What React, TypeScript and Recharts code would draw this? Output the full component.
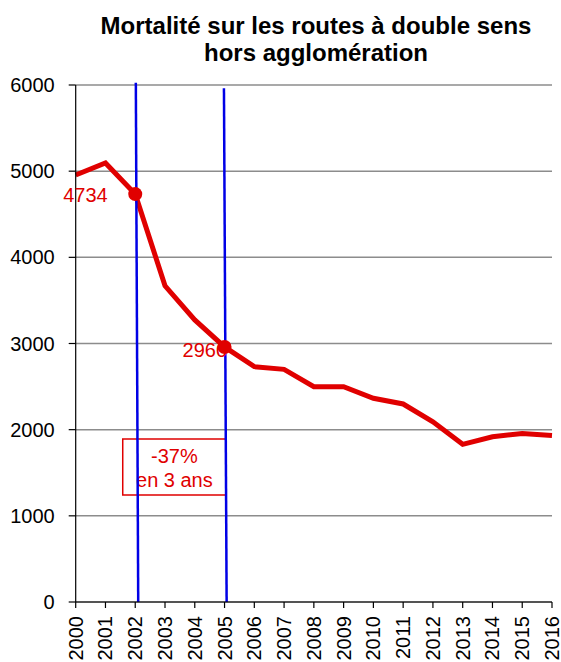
import React from 'react';
import {
  LineChart, Line, XAxis, YAxis, CartesianGrid,
  ReferenceLine, ReferenceArea,
} from 'recharts';

const YEARS = [
  2000, 2001, 2002, 2003, 2004, 2005, 2006, 2007, 2008,
  2009, 2010, 2011, 2012, 2013, 2014, 2015, 2016,
];
const DEATHS = [
  4955, 5095, 4734, 3670, 3273, 2960, 2731, 2700, 2499,
  2499, 2365, 2298, 2092, 1830, 1918, 1955, 1932,
];
const Y_TICKS = [0, 1000, 2000, 3000, 4000, 5000, 6000];
const MARKED_YEARS = [2002, 2005];

// lignes bleues légèrement penchées, en unités de données
const BLUE_LINES = [
  [{ x: 2002.02, y: 6025 }, { x: 2002.1, y: 0 }],
  [{ x: 2004.98, y: 5962 }, { x: 2005.07, y: 0 }],
];
const BOX = { x1: 2001.58, x2: 2005.05, y1: 1242, y2: 1892 };
const BOX_LINES = ['-37%', 'en 3 ans'];

const RED = '#e00000';
const BLUE = '#0000e6';
const FONT = '"Liberation Sans", Arial, sans-serif';

const data = YEARS.map((year, i) => ({ year, value: DEATHS[i] }));

const XTick = ({ x, payload }: any) => (
  <text
    transform={`translate(${x + 7}, 616) rotate(-90)`}
    textAnchor="end"
    fontSize={20}
    fontFamily={FONT}
    fill="#000"
  >
    {payload.value}
  </text>
);

const Dot = (props: any) => {
  const { cx, cy, payload } = props;
  if (!MARKED_YEARS.includes(payload.year)) return <g key={payload.year} />;
  return <circle key={payload.year} cx={cx} cy={cy} r={7} fill={RED} />;
};

const PointLabel = (props: any) => {
  const { x, y, index, value } = props;
  const year = YEARS[index];
  if (!MARKED_YEARS.includes(year)) return null;
  const dx = year === 2002 ? -27.5 : 2.5;
  const dy = year === 2002 ? 8 : 10;
  return (
    <text x={x + dx} y={y + dy} textAnchor="end" fontSize={20} fontFamily={FONT} fill={RED}>
      {value}
    </text>
  );
};

const BoxLabel = (props: any) => {
  const { x, y, width } = props.viewBox;
  const cx = x + width / 2;
  return (
    <g>
      {BOX_LINES.map((t, i) => (
        <text key={t} x={cx} y={y + 23.7 + i * 24} textAnchor="middle" fontSize={20} fontFamily={FONT} fill={RED}>
          {t}
        </text>
      ))}
    </g>
  );
};

export default function App() {
  return (
    <div style={{ position: 'absolute', left: 0, top: 0, width: 561, height: 662, background: '#fff' }}>
      <div
        style={{
          position: 'absolute', left: 66, top: 12, width: 500,
          textAlign: 'center', fontFamily: FONT, fontWeight: 'bold',
          fontSize: 24, lineHeight: '27px', color: '#000',
        }}
      >
        Mortalité sur les routes à double sens<br />hors agglomération
      </div>
      <LineChart
        width={561}
        height={662}
        data={data}
        margin={{ top: 85, right: 9, bottom: 0, left: 5.7 }}
      >
        <CartesianGrid vertical={false} stroke="#8c8c8c" strokeWidth={1.5} />
        <XAxis
          dataKey="year"
          type="number"
          domain={[2000, 2016]}
          ticks={YEARS}
          interval={0}
          height={60}
          tick={<XTick />}
          tickSize={6}
          axisLine={{ stroke: '#000', strokeWidth: 1.2 }}
          tickLine={{ stroke: '#000', strokeWidth: 1.2 }}
        />
        <YAxis
          domain={[0, 6000]}
          ticks={Y_TICKS}
          width={70}
          tickSize={7}
          tickMargin={14}
          tick={{ fontSize: 20, fill: '#000', fontFamily: FONT }}
          axisLine={{ stroke: '#000', strokeWidth: 1.2 }}
          tickLine={{ stroke: '#000', strokeWidth: 1.2 }}
        />
        <ReferenceArea
          x1={BOX.x1}
          x2={BOX.x2}
          y1={BOX.y1}
          y2={BOX.y2}
          fill="none"
          fillOpacity={0}
          stroke={RED}
          strokeWidth={1.5}
          strokeOpacity={1}
          ifOverflow="visible"
          label={BoxLabel}
        />
        <Line
          type="linear"
          dataKey="value"
          stroke={RED}
          strokeWidth={5}
          dot={Dot}
          activeDot={false}
          label={PointLabel}
          isAnimationActive={false}
        />
        {BLUE_LINES.map((seg, i) => (
          <ReferenceLine
            key={i}
            segment={seg}
            stroke={BLUE}
            strokeWidth={2.5}
            ifOverflow="visible"
          />
        ))}
      </LineChart>
    </div>
  );
}
